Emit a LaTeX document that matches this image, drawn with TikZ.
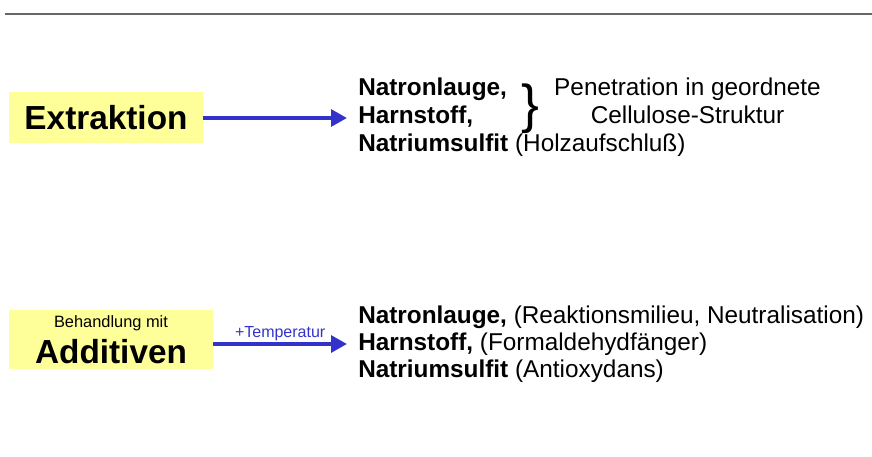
\documentclass[tikz,border=0pt]{standalone}
\usepackage{fontspec}
\setmainfont{Liberation Sans}
\usetikzlibrary{arrows.meta,positioning}
\definecolor{pfeilblau}{HTML}{3333CC}
\definecolor{kastengelb}{HTML}{FFFF99}
\definecolor{liniengrau}{HTML}{666666}
\tikzset{kasten/.style={rectangle, fill=kastengelb, inner sep=0pt, align=center, font=\fontsize{25}{27}\selectfont\bfseries},
	pfeil/.style={pfeilblau, line width=3pt, -{Triangle[length=12pt,width=12.5pt]}},
	zeile/.style={anchor=base west, inner sep=0pt, font=\fontsize{18.25}{21}\selectfont}}

\begin{document}
\begin{tikzpicture}[x=0.75pt,y=-0.75pt]
	\useasboundingbox (0,0) rectangle (872,457);
	\draw[liniengrau, line width=1.5pt] (5,14) -- (872,14);
	% Extraktion
	\node[kasten, minimum width=145.5pt, minimum height=38.25pt] (extraktion) at (106,117.5) {Extraktion};
	\coordinate (ziel1) at (347,118);
	\draw[pfeil] (extraktion.east |- ziel1) -- (ziel1);
	\node[zeile] (natron1) at (358,95) {\textbf{Natronlauge,}};
	\node[zeile] (harn1) at (358,123) {\textbf{Harnstoff,}};
	\node[zeile] (sulfit1) at (358,151) {\textbf{Natriumsulfit} (Holzaufschluß)};
	\node[anchor=base west, inner sep=0pt, font=\fontsize{40}{40}\selectfont] (klammer) at (521,122) {\}};
	\node[zeile, anchor=base, align=center] (penetration) at (687.5,123) {Penetration in geordnete\\Cellulose-Struktur};
	% Additiven
	\node[kasten, minimum width=153pt, minimum height=44.25pt] (additiven) at (111,339.5) {{\fontsize{12.3}{14}\selectfont\mdseries Behandlung mit}\\Additiven};
	\coordinate (ziel2) at (347,344);
	\draw[pfeil] (additiven.east |- ziel2) -- node[above, inner sep=1pt, font=\fontsize{12}{14}\selectfont] (temperatur) {+Temperatur} (ziel2);
	\node[zeile] (natron2) at (358,323) {\textbf{Natronlauge,} (Reaktionsmilieu, Neutralisation)};
	\node[zeile] (harn2) at (358,350) {\textbf{Harnstoff,} (Formaldehydfänger)};
	\node[zeile] (sulfit2) at (358,377) {\textbf{Natriumsulfit} (Antioxydans)};
\end{tikzpicture}
\end{document}
